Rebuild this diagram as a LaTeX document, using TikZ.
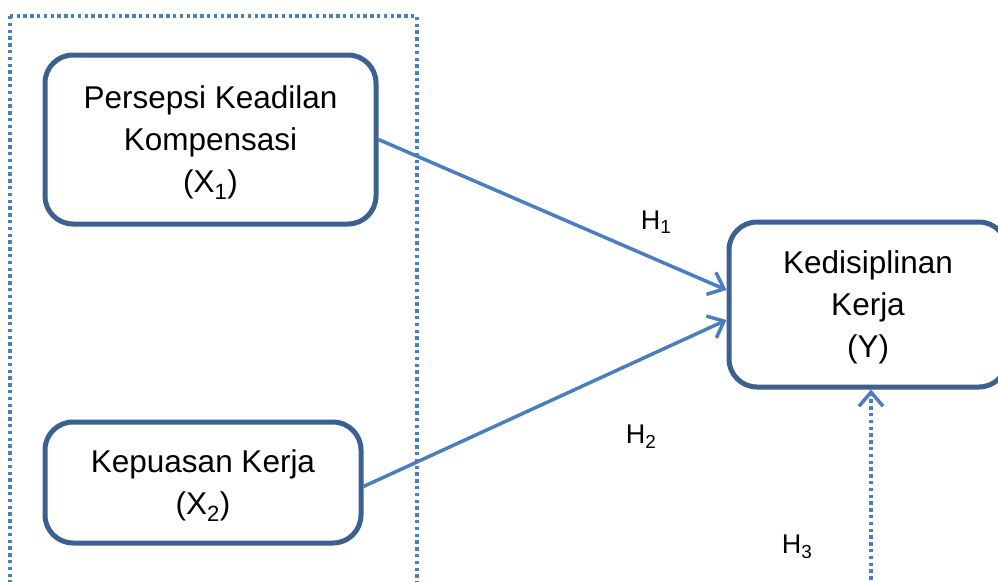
\documentclass[tikz,border=0pt]{standalone}
\usepackage{fontspec}
\setmainfont{Liberation Sans}
\usepackage{tikz}
\usetikzlibrary{arrows.meta}
\definecolor{boxblue}{RGB}{60,96,145}
\definecolor{lineblue}{RGB}{74,126,190}

\begin{document}
\begin{tikzpicture}[x=1pt,y=-1pt]
\useasboundingbox (0,0) rectangle (998,581);

\tikzset{var/.style = {shape=rectangle,draw=boxblue,line width=5pt,rounded corners=28pt,align=center,inner sep=0pt,text depth=-1.5pt,font=\fontsize{31.5}{42}\selectfont}}
\tikzset{edge/.style = {draw=lineblue,line width=3.5pt,-{Straight Barb[length=14pt,width=24pt]}}}
\tikzset{dots/.style = {draw=lineblue,line width=3.5pt,dash pattern=on 3.4pt off 3.4pt}}
\tikzset{hyp/.style = {font=\fontsize{27}{32}\selectfont}}

\draw[dots] (10,16) rectangle (417,600);

\node[var,minimum width=331pt,minimum height=169pt] (x1) at (210.5,139.5) {Persepsi Keadilan\\Kompensasi\\(X\textsubscript{1})};
\node[var,minimum width=316pt,minimum height=121pt] (x2) at (203,482.5) {Kepuasan Kerja\\(X\textsubscript{2})};
\node[var,minimum width=278pt,minimum height=165pt] (y) at (868,304.5) {Kedisiplinan\\Kerja\\(Y)};

\node[hyp] (h1) at (656,222) {H\textsubscript{1}};
\node[hyp] (h2) at (641,437) {H\textsubscript{2}};
\node[hyp] (h3) at (797,547) {H\textsubscript{3}};
\coordinate (h3foot) at (871,600);

%edges
\draw[edge] (x1.east) to ([yshift=14.5pt]y.west);
\draw[edge] ([yshift=-4pt]x2.east) to ([yshift=-15.5pt]y.west);
\draw[dots,-{Straight Barb[length=14pt,width=24pt]}] (h3foot) to (h3foot |- y.south);
\end{tikzpicture}
\end{document}
